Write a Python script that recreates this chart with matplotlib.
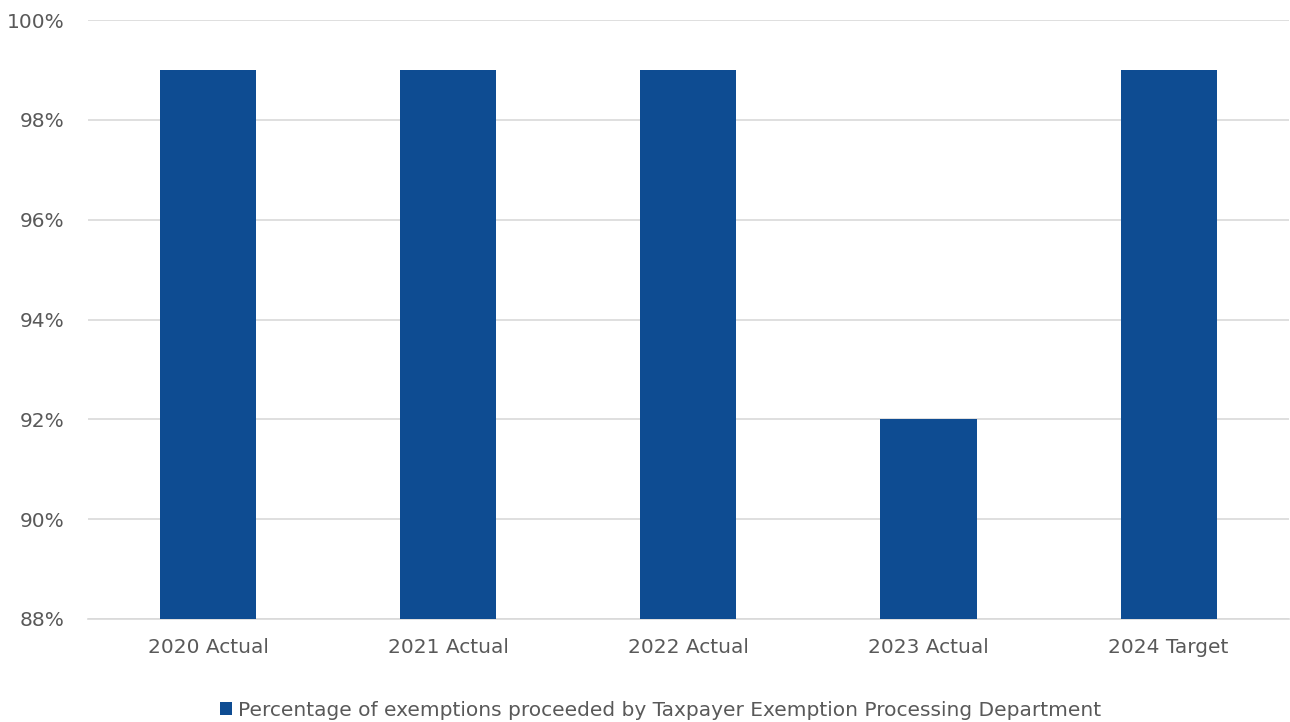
import matplotlib
matplotlib.use("Agg")
import matplotlib.pyplot as plt
from matplotlib.ticker import FuncFormatter

categories = ["2020 Actual", "2021 Actual", "2022 Actual", "2023 Actual", "2024 Target"]
values = [99, 99, 99, 92, 99]
series_name = "Percentage of exemptions proceeded by Taxpayer Exemption Processing Department"

bar_color = "#0E4C92"
text_color = "#595959"

fig = plt.figure(figsize=(12.9, 7.22), dpi=100)
ax = fig.add_axes([88 / 1290, 1 - 619 / 722, 1 - 88 / 1290 - 0.001, (619 - 20) / 722])

ax.bar(range(len(categories)), values, width=0.4, color=bar_color, label=series_name, zorder=3)

ax.set_ylim(88, 100)
ax.set_xlim(-0.5, len(categories) - 0.5)
ax.set_yticks(range(88, 101, 2))
ax.yaxis.set_major_formatter(FuncFormatter(lambda v, _: f"{v:.0f}%"))
ax.set_xticks(range(len(categories)))
ax.set_xticklabels(categories)

ax.grid(axis="y", color="#D9D9D9", linewidth=1.2, zorder=0)
for s in ["top", "right", "left"]:
    ax.spines[s].set_visible(False)
ax.spines["bottom"].set_color("#D9D9D9")
ax.spines["bottom"].set_linewidth(1.2)
ax.tick_params(axis="both", length=0, colors=text_color, labelsize=14.5)
ax.tick_params(axis="x", pad=14)
ax.tick_params(axis="y", pad=17)

fig.legend(loc="center", bbox_to_anchor=(0.512, 1 - 710 / 722), frameon=False,
           fontsize=14.5, labelcolor=text_color, handlelength=0.6, handleheight=0.6,
           handletextpad=0.3)

fig.savefig("out.png", dpi=100)
